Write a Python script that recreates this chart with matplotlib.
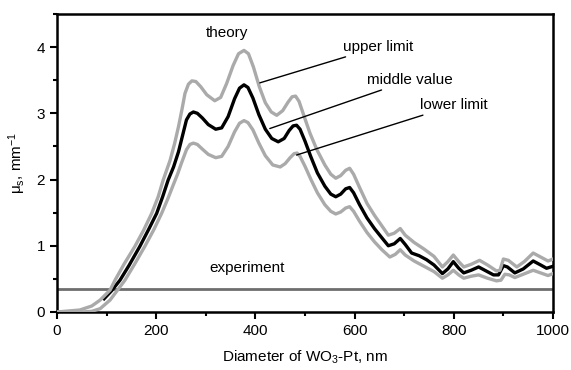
import matplotlib
matplotlib.use("Agg")
import matplotlib.pyplot as plt
from matplotlib.ticker import MultipleLocator

plt.rcParams['font.family'] = ['Liberation Sans', 'DejaVu Sans']
plt.rcParams['mathtext.fontset'] = 'custom'
plt.rcParams['mathtext.rm'] = 'Liberation Sans'
plt.rcParams['mathtext.it'] = 'Liberation Sans:italic'

# middle value (black curve)
mid_x = [95, 110, 127, 145, 167, 185, 201, 213, 224, 235, 245, 253, 261, 268, 275, 283, 293,
         305, 320, 332, 345, 358, 368, 377, 385, 395, 407, 420, 433, 446, 458, 468, 476, 483,
         490, 500, 512, 525, 540, 552, 562, 572, 582, 590, 598, 610, 625, 640, 655, 668, 680,
         692, 702, 715, 730, 745, 760, 777, 788, 799, 810, 820, 835, 850, 865, 880, 890, 900,
         908, 923, 940, 960, 975, 987, 1000]
mid_y = [0.20, 0.32, 0.48, 0.70, 0.99, 1.25, 1.49, 1.74, 1.99, 2.19, 2.42, 2.66, 2.90, 2.99,
         3.02, 3.00, 2.93, 2.83, 2.76, 2.78, 2.95, 3.22, 3.38, 3.43, 3.39, 3.23, 2.98, 2.76,
         2.62, 2.57, 2.62, 2.74, 2.81, 2.82, 2.76, 2.58, 2.34, 2.10, 1.90, 1.78, 1.74, 1.78,
         1.86, 1.88, 1.80, 1.62, 1.42, 1.26, 1.12, 1.00, 1.03, 1.11, 1.02, 0.89, 0.85, 0.79,
         0.71, 0.58, 0.65, 0.76, 0.66, 0.59, 0.63, 0.68, 0.62, 0.56, 0.56, 0.70, 0.68, 0.59,
         0.65, 0.77, 0.71, 0.66, 0.69]

# upper limit
up_x = [0, 46, 70, 87, 107, 117, 135, 157, 175, 191, 204, 214, 228, 237, 245, 252, 258, 265,
        272, 280, 290, 302, 318, 330, 342, 355, 366, 377, 386, 396, 408, 420, 432, 443, 455,
        466, 474, 481, 488, 498, 510, 524, 540, 552, 562, 572, 582, 590, 598, 610, 625, 640,
        655, 668, 680, 692, 702, 720, 740, 760, 777, 788, 799, 810, 820, 835, 852, 868, 886,
        893, 900, 910, 927, 942, 960, 975, 990, 1000]
up_y = [0.0, 0.03, 0.09, 0.18, 0.33, 0.48, 0.72, 0.99, 1.24, 1.49, 1.74, 1.99, 2.29, 2.54,
        2.80, 3.06, 3.30, 3.44, 3.49, 3.48, 3.40, 3.28, 3.19, 3.24, 3.45, 3.72, 3.90, 3.95,
        3.90, 3.70, 3.40, 3.16, 3.02, 2.97, 3.04, 3.17, 3.25, 3.26, 3.18, 2.96, 2.70, 2.45,
        2.22, 2.08, 2.02, 2.06, 2.14, 2.17, 2.08, 1.88, 1.64, 1.46, 1.30, 1.16, 1.19, 1.26,
        1.16, 1.05, 0.95, 0.84, 0.68, 0.76, 0.86, 0.76, 0.68, 0.72, 0.78, 0.71, 0.62, 0.63,
        0.80, 0.78, 0.68, 0.76, 0.89, 0.83, 0.77, 0.80]

# lower limit
low_x = [0, 50, 70, 87, 107, 120, 137, 157, 177, 195, 211, 224, 235, 243, 251, 261, 268, 275,
         283, 293, 305, 320, 332, 345, 358, 368, 377, 385, 395, 407, 420, 435, 450, 460, 470,
         478, 484, 490, 500, 512, 525, 540, 552, 562, 572, 582, 590, 598, 610, 625, 640, 655,
         671, 682, 692, 702, 720, 740, 760, 777, 788, 799, 810, 820, 835, 850, 868, 886, 895,
         903, 912, 923, 940, 960, 975, 990, 1000]
low_y = [0.0, 0.0, 0.01, 0.05, 0.18, 0.31, 0.48, 0.73, 0.99, 1.24, 1.49, 1.72, 1.93, 2.08,
         2.25, 2.45, 2.53, 2.55, 2.53, 2.46, 2.38, 2.33, 2.35, 2.50, 2.72, 2.85, 2.89, 2.86,
         2.75, 2.55, 2.36, 2.22, 2.19, 2.24, 2.33, 2.39, 2.40, 2.35, 2.20, 2.00, 1.80, 1.62,
         1.52, 1.48, 1.51, 1.57, 1.59, 1.52, 1.37, 1.20, 1.06, 0.94, 0.83, 0.87, 0.94, 0.86,
         0.77, 0.69, 0.61, 0.51, 0.56, 0.63, 0.56, 0.51, 0.54, 0.56, 0.51, 0.47, 0.48, 0.57,
         0.56, 0.52, 0.57, 0.63, 0.59, 0.55, 0.58]

experiment = 0.35

fig = plt.figure(figsize=(5.71, 3.70), dpi=100)
ax = fig.add_axes([0.0998, 0.1568, 0.8687, 0.8054])

ax.axhline(experiment, color='#6e6e6e', lw=2.0, zorder=1)
ax.plot(mid_x, mid_y, color='black', lw=2.4, zorder=2, solid_joinstyle='round')
ax.plot(up_x, up_y, color='#aaaaaa', lw=2.4, zorder=3, solid_joinstyle='round')
ax.plot(low_x, low_y, color='#aaaaaa', lw=2.4, zorder=3, solid_joinstyle='round')

ax.set_xlim(0, 1000)
ax.set_ylim(0, 4.5)
ax.xaxis.set_major_locator(MultipleLocator(200))
ax.xaxis.set_minor_locator(MultipleLocator(100))
ax.yaxis.set_major_locator(MultipleLocator(1))
ax.yaxis.set_minor_locator(MultipleLocator(0.5))
ax.tick_params(which='major', direction='out', length=5, width=1.5, labelsize=11)
ax.tick_params(which='minor', direction='out', length=3, width=1.5)
ax.tick_params(top=False, right=False)
for s in ax.spines.values():
    s.set_linewidth(1.8)

ax.set_xlabel(r'Diameter of WO$_\mathregular{3}$-Pt, nm', fontsize=11, labelpad=8)
ax.set_ylabel(r'μ$_\mathregular{s}$, mm$^\mathregular{-1}$', fontsize=11, labelpad=6)

# annotations
ax.text(342, 4.21, 'theory', fontsize=11, ha='center', va='center')
ax.text(383, 0.67, 'experiment', fontsize=11, ha='center', va='center')
ax.annotate('upper limit', xy=(409, 3.46), xytext=(576, 4.0), fontsize=11, va='center',
            arrowprops=dict(arrowstyle='-', color='black', lw=1, shrinkA=0, shrinkB=0))
ax.annotate('middle value', xy=(429, 2.77), xytext=(625, 3.5), fontsize=11, va='center',
            arrowprops=dict(arrowstyle='-', color='black', lw=1, shrinkA=0, shrinkB=0))
ax.annotate('lower limit', xy=(483, 2.37), xytext=(732, 3.12), fontsize=11, va='center',
            arrowprops=dict(arrowstyle='-', color='black', lw=1, shrinkA=0, shrinkB=0))

fig.savefig('out.png', dpi=100)
